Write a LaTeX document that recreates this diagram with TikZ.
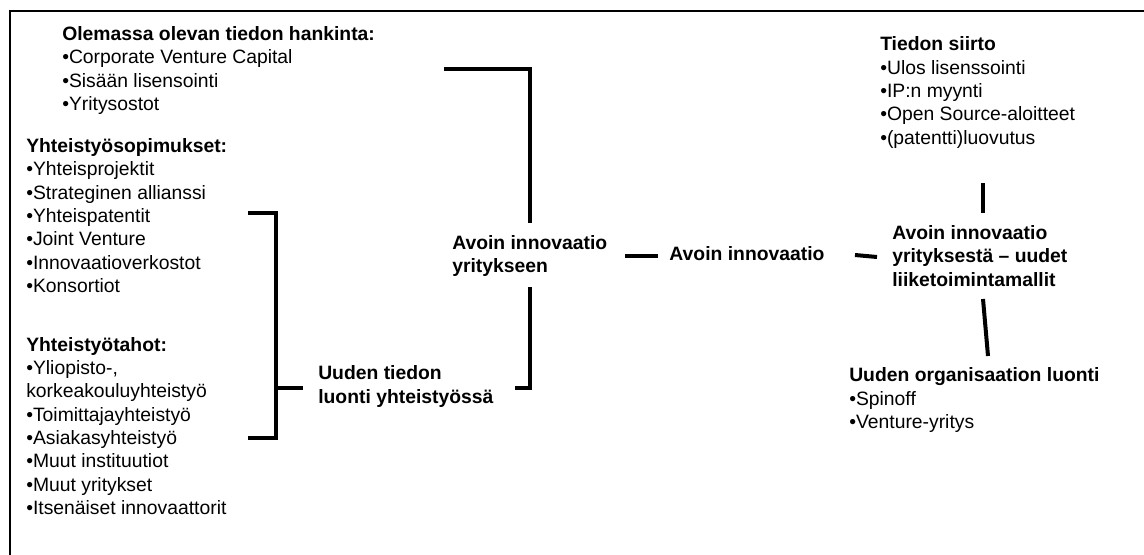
\documentclass[tikz,border=0pt]{standalone}
\usepackage{fontspec}
\setmainfont{Liberation Sans}
\begin{document}
\begin{tikzpicture}[x=0.75pt,y=-0.75pt,
  txt/.style={anchor=west,inner sep=0pt,align=left,font=\fontsize{14.5}{17.5}\selectfont},
  head/.style={txt,font=\fontsize{14.5}{17.5}\selectfont\bfseries},
  link/.style={line width=3pt},
  frame/.style={line width=2.2pt}]
\useasboundingbox (0,0) rectangle (1144,554);
\clip (0,0) rectangle (1144,554);
% outer frame, open to the right and bottom
\draw[frame] (10,570) -- (10,11) -- (1160,11);

% left column
\node[txt] (acq) at (62,70.5) {\textbf{Olemassa olevan tiedon hankinta:}\\•Corporate Venture Capital\\•Sisään lisensointi\\•Yritysostot};
\node[txt] (coop) at (26,215.5) {\textbf{Yhteistyösopimukset:}\\•Yhteisprojektit\\•Strateginen allianssi\\•Yhteispatentit\\•Joint Venture\\•Innovaatioverkostot\\•Konsortiot};
\node[txt] (partners) at (26,426) {\textbf{Yhteistyötahot:}\\•Yliopisto-,\\korkeakouluyhteistyö\\•Toimittajayhteistyö\\•Asiakasyhteistyö\\•Muut instituutiot\\•Muut yritykset\\•Itsenäiset innovaattorit};

% middle
\node[head] (uusi) at (318,386.5) {Uuden tiedon\\luonti yhteistyössä};
\node[head] (aiy) at (452,256) {Avoin innovaatio\\yritykseen};
\node[head,anchor=center] (ai) at (747,254) {Avoin innovaatio};

% right column
\node[txt] (siirto) at (880,92.5) {\textbf{Tiedon siirto}\\•Ulos lisenssointi\\•IP:n myynti\\•Open Source-aloitteet\\•(patentti)luovutus};
\node[head] (aiz) at (892,256) {Avoin innovaatio\\yrityksestä – uudet\\liiketoimintamallit};
\node[txt] (org) at (849,400) {\textbf{Uuden organisaation luonti}\\•Spinoff\\•Venture-yritys};

% connector end points
\coordinate (b1a) at (248,213);
\coordinate (b1b) at (276,213);
\coordinate (b1c) at (276,438);
\coordinate (b1d) at (248,438);
\coordinate (b1m) at (276,388);
\coordinate (b1t) at (303,388);
\coordinate (b2a) at (444,69);
\coordinate (b2b) at (530,69);
\coordinate (b2c) at (530,223);
\coordinate (b2d) at (530,287);
\coordinate (b2e) at (530,388);
\coordinate (b2f) at (515,388);
\coordinate (t1a) at (625,256);
\coordinate (t1b) at (658,256);
\coordinate (t2a) at (855,255);
\coordinate (t2b) at (877,257);
\coordinate (t3a) at (983,183);
\coordinate (t3b) at (983,213);
\coordinate (t4a) at (983,299);
\coordinate (t4b) at (988,356);

% brackets and ticks
\draw[link] (b1a) -- (b1b) -- (b1c) -- (b1d);
\draw[link] (b1m) -- (b1t);
\draw[link] (b2a) -- (b2b) -- (b2c);
\draw[link] (b2d) -- (b2e) -- (b2f);
\draw[link] (t1a) -- (t1b);
\draw[link] (t2a) -- (t2b);
\draw[link] (t3a) -- (t3b);
\draw[link] (t4a) -- (t4b);
\end{tikzpicture}
\end{document}
